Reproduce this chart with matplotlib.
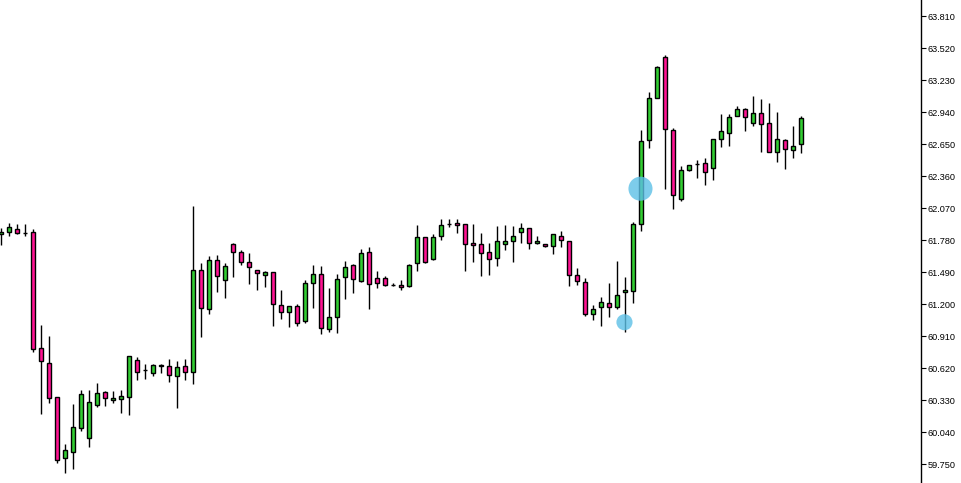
import numpy as np
import matplotlib
matplotlib.use('Agg')
import matplotlib.pyplot as plt

# OHLC (one candle per bar slot)
opens = [61.834, 61.852, 61.880, 61.848, 61.852, 60.801, 60.665, 60.357, 59.804, 59.859,
         60.076, 59.986, 60.285, 60.402, 60.330, 60.339, 60.357, 60.692, 60.602, 60.575,
         60.638, 60.638, 60.547, 60.638, 60.584, 61.508, 61.155, 61.599, 61.417, 61.744,
         61.671, 61.581, 61.508, 61.463, 61.490, 61.191, 61.127, 61.182, 61.046, 61.390,
         61.472, 60.973, 61.082, 61.445, 61.553, 61.408, 61.671, 61.436, 61.436, 61.372,
         61.372, 61.363, 61.572, 61.807, 61.608, 61.816, 61.925, 61.934, 61.925, 61.753,
         61.744, 61.671, 61.617, 61.744, 61.771, 61.852, 61.889, 61.753, 61.744, 61.726,
         61.816, 61.771, 61.463, 61.399, 61.109, 61.173, 61.209, 61.173, 61.309, 61.318,
         61.925, 62.686, 63.067, 63.438, 62.777, 62.152, 62.414, 62.469, 62.478, 62.432,
         62.695, 62.750, 62.904, 62.967, 62.840, 62.931, 62.840, 62.577, 62.686, 62.596,
         62.650]
highs = [61.889, 61.934, 61.925, 61.925, 61.880, 61.010, 60.910, 60.357, 59.931, 60.294,
         60.421, 60.421, 60.484, 60.412, 60.412, 60.421, 60.729, 60.720, 60.656, 60.656,
         60.656, 60.702, 60.683, 60.702, 62.088, 61.572, 61.635, 61.644, 61.572, 61.753,
         61.689, 61.662, 61.508, 61.499, 61.490, 61.327, 61.182, 61.200, 61.417, 61.553,
         61.544, 61.345, 61.472, 61.590, 61.562, 61.698, 61.717, 61.499, 61.454, 61.390,
         61.417, 61.562, 61.916, 61.807, 61.834, 61.970, 61.970, 61.970, 61.925, 61.925,
         61.843, 61.753, 61.907, 61.916, 61.907, 61.934, 61.889, 61.816, 61.744, 61.834,
         61.862, 61.771, 61.526, 61.436, 61.191, 61.263, 61.390, 61.590, 61.445, 61.943,
         62.777, 63.121, 63.357, 63.457, 62.795, 62.451, 62.460, 62.505, 62.523, 62.695,
         62.922, 62.922, 62.994, 62.976, 63.085, 63.058, 63.022, 62.940, 62.695, 62.813,
         62.904]
lows = [61.735, 61.816, 61.834, 61.816, 60.765, 60.203, 60.303, 59.759, 59.668, 59.705,
        60.049, 59.904, 60.267, 60.276, 60.303, 60.212, 60.194, 60.511, 60.520, 60.547,
        60.575, 60.493, 60.257, 60.511, 60.475, 60.901, 61.109, 61.309, 61.254, 61.445,
        61.553, 61.381, 61.327, 61.354, 61.001, 61.064, 60.992, 61.001, 61.028, 61.164,
        60.928, 60.946, 60.937, 61.245, 61.300, 61.399, 61.155, 61.345, 61.363, 61.363,
        61.327, 61.354, 61.499, 61.572, 61.599, 61.780, 61.898, 61.843, 61.499, 61.581,
        61.454, 61.463, 61.544, 61.689, 61.581, 61.753, 61.698, 61.744, 61.717, 61.653,
        61.717, 61.363, 61.372, 61.091, 61.055, 61.001, 61.082, 61.155, 60.946, 61.209,
        61.862, 62.614, 63.067, 62.242, 62.061, 62.133, 62.405, 62.342, 62.278, 62.324,
        62.623, 62.632, 62.904, 62.768, 62.813, 62.577, 62.577, 62.487, 62.423, 62.523,
        62.568]
closes = [61.852, 61.898, 61.843, 61.848, 60.792, 60.683, 60.348, 59.786, 59.877, 60.085,
          60.384, 60.312, 60.393, 60.348, 60.348, 60.366, 60.729, 60.584, 60.602, 60.647,
          60.647, 60.557, 60.629, 60.584, 61.508, 61.164, 61.599, 61.454, 61.544, 61.671,
          61.581, 61.535, 61.481, 61.490, 61.200, 61.127, 61.182, 61.028, 61.390, 61.472,
          60.982, 61.082, 61.427, 61.535, 61.427, 61.662, 61.381, 61.390, 61.372, 61.372,
          61.354, 61.553, 61.807, 61.581, 61.807, 61.916, 61.925, 61.916, 61.744, 61.735,
          61.662, 61.608, 61.771, 61.771, 61.816, 61.889, 61.753, 61.771, 61.726, 61.834,
          61.780, 61.463, 61.408, 61.109, 61.155, 61.218, 61.173, 61.282, 61.327, 61.925,
          62.677, 63.067, 63.348, 62.786, 62.188, 62.414, 62.460, 62.469, 62.396, 62.695,
          62.768, 62.895, 62.967, 62.895, 62.931, 62.831, 62.577, 62.695, 62.605, 62.632,
          62.886]

# highlighted points (bar index, price)
mark_idx = [80, 78]
mark_price = [62.245, 61.035]
mark_size = [300, 135]

yticks = [59.750, 60.040, 60.330, 60.620, 60.910, 61.200, 61.490, 61.780,
          62.070, 62.360, 62.650, 62.940, 63.230, 63.520, 63.810]

UP = '#32cd32'
DOWN = '#ff1493'

o = np.array(opens); h = np.array(highs); l = np.array(lows); c = np.array(closes)
x = np.arange(len(o))

fig = plt.figure(figsize=(9.61, 4.83), dpi=100)
ax = fig.add_axes([0, 0, 921 / 961, 1])

ax.vlines(x + 0.06, l, h, color='black', lw=1.0, zorder=1)
cols = [UP if cc > oo else DOWN for oo, cc in zip(o, c)]
ax.bar(x + 0.06, np.abs(c - o), bottom=np.minimum(o, c), width=0.6, color=cols,
       edgecolor='black', linewidth=1.0, zorder=2)

ax.scatter(mark_idx, mark_price, s=mark_size, color='#5cc0e6', alpha=0.8,
           edgecolors='none', zorder=3)

ax.set_xlim(-0.06, 921 / 8 - 0.06)
ax.set_ylim(59.578, 63.955)

for side in ['top', 'left', 'bottom']:
    ax.spines[side].set_visible(False)
ax.spines['right'].set_linewidth(1.0)
ax.set_xticks([])
ax.yaxis.tick_right()
ax.set_yticks(yticks)
ax.set_yticklabels([f'{v:.3f}' for v in yticks])
ax.tick_params(axis='y', direction='out', length=3.5, width=0.8, pad=1,
               labelsize=6.6, labelfontfamily='Liberation Sans')

fig.savefig('out.png', dpi=100, facecolor='white')
